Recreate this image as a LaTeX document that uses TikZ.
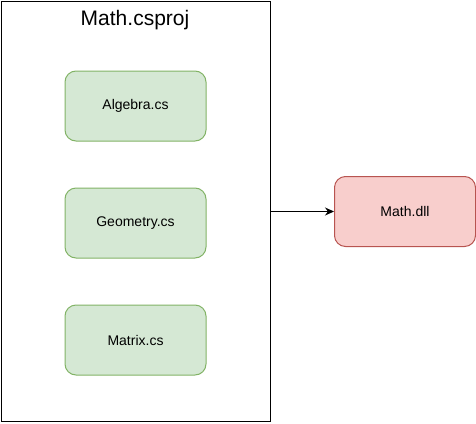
\documentclass[tikz,border=0pt]{standalone}
\usepackage{fontspec}
\setmainfont{Liberation Sans}
\usetikzlibrary{arrows.meta,positioning}
\definecolor{srcfill}{HTML}{D5E8D4}
\definecolor{srcline}{HTML}{82B366}
\definecolor{dllfill}{HTML}{F8CECC}
\definecolor{dllline}{HTML}{B85450}

\begin{document}
\begin{tikzpicture}[x=1pt,y=1pt,
    srcfile/.style={draw=srcline,fill=srcfill,line width=1pt,rounded corners=11pt,
        minimum width=141pt,minimum height=70pt,font=\fontsize{14}{16}\selectfont},
    dllfile/.style={srcfile,draw=dllline,fill=dllfill}]
    \useasboundingbox (0,0) rectangle (476,-423);
    % project box with its sources
    \node[draw,line width=1pt,minimum width=269pt,minimum height=420pt,anchor=north west,inner sep=0pt] (proj) at (1,-1) {};
    \node (title) at (135,-20) {\fontsize{21}{24}\selectfont Math.csproj};
    \node[srcfile,anchor=north west] (alg) at (64.5,-70.5) {Algebra.cs};
    \node[srcfile,below=46pt of alg] (geo) {Geometry.cs};
    \node[srcfile,below=46pt of geo] (mat) {Matrix.cs};
    % output
    \node[dllfile,anchor=north west] (dll) at (334,-176) {Math.dll};
    \draw[line width=1pt,-{Stealth[length=9pt,width=8pt]}] (proj.east |- dll) -- (dll);
\end{tikzpicture}
\end{document}
